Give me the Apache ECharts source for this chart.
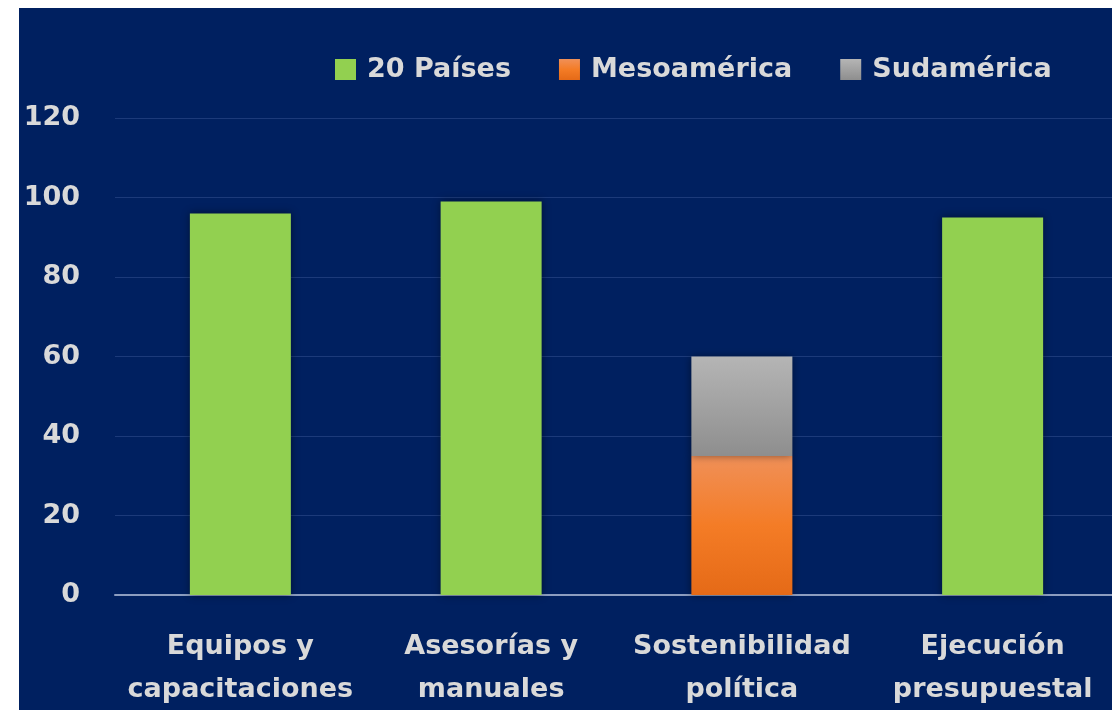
<!DOCTYPE html>
<html>
<head>
<meta charset="utf-8">
<script src="https://cdn.jsdelivr.net/npm/echarts@6/dist/echarts.min.js"></script>
<style>
  html, body { margin: 0; padding: 0; background: #ffffff; }
  #chart { position: absolute; left: 19px; top: 8px; width: 1093px; height: 702px; background: #002060; }
</style>
</head>
<body>
<div id="chart"></div>
<script>
var categories = ['Equipos y\ncapacitaciones', 'Asesorías y\nmanuales', 'Sostenibilidad\npolítica', 'Ejecución\npresupuestal'];
var paises = [96, 99, null, 95];
var mesoamerica = [null, null, 35, null];
var sudamerica = [null, null, 25, null];

var textColor = '#d9d9d9';
var font = '"DejaVu Sans", sans-serif';

var chart = echarts.init(document.getElementById('chart'));
chart.setOption({
  backgroundColor: '#002060',
  animation: false,
  legend: {
    top: 43,
    left: 311,
    itemWidth: 21,
    itemHeight: 21,
    itemGap: 48,
    icon: 'rect',
    textStyle: { color: textColor, fontSize: 27, fontWeight: 'bold', fontFamily: font, padding: [0, 0, 0, 6] },
    data: ['20 Países', 'Mesoamérica', 'Sudamérica']
  },
  grid: { left: 96, right: -6, top: 110, bottom: 115, outerBoundsMode: 'none' },
  xAxis: {
    type: 'category',
    data: categories,
    axisTick: { show: false },
    axisLine: { lineStyle: { color: '#8c9dc0', width: 2 } },
    axisLabel: {
      color: textColor, fontSize: 27, fontWeight: 'bold', fontFamily: font,
      lineHeight: 43, margin: 30, interval: 0
    }
  },
  yAxis: {
    type: 'value',
    min: 0, max: 120, interval: 20,
    axisLine: { show: false },
    axisTick: { show: false },
    splitLine: { lineStyle: { color: '#1c3a7a', width: 1 } },
    axisLabel: { color: textColor, fontSize: 27, fontWeight: 'bold', fontFamily: font, margin: 35 }
  },
  series: [
    {
      name: '20 Países', type: 'bar', stack: 'a', barWidth: 101,
      data: paises,
      itemStyle: { color: '#92d050', shadowBlur: 8, shadowColor: 'rgba(0,0,0,0.45)' }
    },
    {
      name: 'Mesoamérica', type: 'bar', stack: 'a', barWidth: 101,
      data: mesoamerica,
      itemStyle: {
        color: new echarts.graphic.LinearGradient(0, 0, 0, 1, [
          { offset: 0, color: '#f09058' },
          { offset: 0.5, color: '#f47c26' },
          { offset: 1, color: '#e56a17' }
        ]),
        shadowBlur: 8, shadowColor: 'rgba(0,0,0,0.45)'
      }
    },
    {
      name: 'Sudamérica', type: 'bar', stack: 'a', barWidth: 101,
      data: sudamerica,
      itemStyle: {
        color: new echarts.graphic.LinearGradient(0, 0, 0, 1, [
          { offset: 0, color: '#b5b5b5' },
          { offset: 1, color: '#8e8e8e' }
        ]),
        shadowBlur: 8, shadowColor: 'rgba(0,0,0,0.45)'
      }
    }
  ]
});
</script>
</body>
</html>
